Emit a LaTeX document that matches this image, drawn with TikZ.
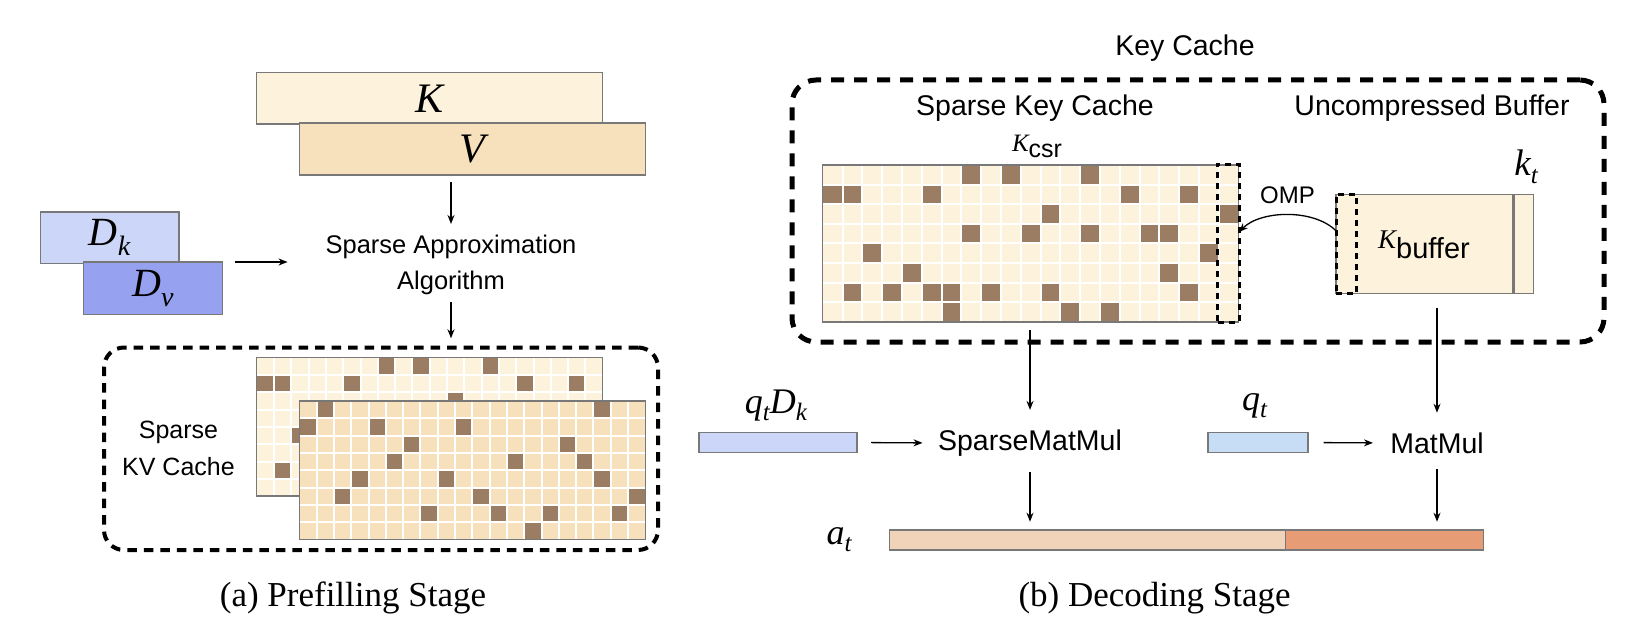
\documentclass[tikz,border=0pt]{standalone}
\usepackage{fontspec}
\setmainfont{Liberation Serif}
\newfontfamily\hsans{Liberation Sans}
\usetikzlibrary{arrows.meta}

\definecolor{creamA}{RGB}{253,242,220}
\definecolor{creamB}{RGB}{246,225,188}
\definecolor{darkcell}{RGB}{154,125,98}
\definecolor{bordergray}{RGB}{120,120,120}
\definecolor{dkblue}{RGB}{204,214,248}
\definecolor{dvblue}{RGB}{150,161,240}
\definecolor{qblue}{RGB}{199,221,246}
\definecolor{atlight}{RGB}{241,211,185}
\definecolor{atdark}{RGB}{230,157,118}

% #1 x0, #2 y0, #3 cell w, #4 cell h, #5 cols, #6 rows, #7 fill, #8 dark cells row/col
\newcommand\drawgrid[8]{%
  \fill[#7] (#1,#2) rectangle ({#1+#5*#3},{#2+#6*#4});
  \foreach \gr/\gc in {#8}{\fill[darkcell] ({#1+\gc*#3},{#2+\gr*#4}) rectangle ++(#3,#4);}
  \pgfmathtruncatemacro\gcm{#5-1}
  \pgfmathtruncatemacro\grm{#6-1}
  \foreach \gi in {1,...,\gcm}{\draw[white,line width=2pt] ({#1+\gi*#3},#2) -- ++(0,{#6*#4});}
  \foreach \gj in {1,...,\grm}{\draw[white,line width=2pt] (#1,{#2+\gj*#4}) -- ++({#5*#3},0);}
  \draw[bordergray,line width=1.5pt] (#1,#2) rectangle ({#1+#5*#3},{#2+#6*#4});
}

\begin{document}
\begin{tikzpicture}[x=1pt,y=-1pt,
  box/.style={draw=bordergray,line width=1.5pt,inner sep=0pt,outer sep=0pt},
  arr/.style={-{Stealth[length=9pt,width=7pt]},line width=1.3pt},
  dashL/.style={draw=black,line width=4pt,dash pattern=on 9.5pt off 7pt,rounded corners=20pt,inner sep=0pt,outer sep=0pt},
  dashR/.style={draw=black,line width=5pt,dash pattern=on 13pt off 10pt,rounded corners=24pt,inner sep=0pt,outer sep=0pt},
  dashS/.style={draw=black,line width=3pt,dash pattern=on 6pt off 5pt,inner sep=0pt,outer sep=0pt},
  lab/.style={inner sep=0pt,outer sep=0pt},
  sfL/.style={lab,font=\hsans\fontsize{25.5}{36.3}\selectfont},
  sfR/.style={lab,font=\hsans\fontsize{28.5}{34}\selectfont},
  mathlab/.style={lab,font=\fontsize{36}{36}\selectfont\itshape},
  captxt/.style={lab,font=\fontsize{35}{40}\selectfont},
]
\useasboundingbox (0,0) rectangle (1642,642);
\fill[white] (0,0) rectangle (1642,642);

% ---------------- (a) Prefilling stage ----------------
\node[box,fill=creamA,minimum width=346pt,minimum height=51.3pt] (K) at (429.7,98.4)
  {\fontsize{42}{42}\selectfont\itshape K};
\node[box,fill=creamB,minimum width=345.6pt,minimum height=52.3pt] (V) at (472.5,148.9)
  {\fontsize{42}{42}\selectfont\itshape V};

\node[box,fill=dkblue,minimum width=138.7pt,minimum height=51.7pt] (Dk) at (109.65,237.85)
  {\fontsize{40}{40}\selectfont\itshape D\raisebox{-10pt}{\fontsize{28}{28}\selectfont k}};
\node[box,fill=dvblue,minimum width=139.2pt,minimum height=52.3pt] (Dv) at (153,288.15)
  {\fontsize{40}{40}\selectfont\itshape D\raisebox{-10pt}{\fontsize{28}{28}\selectfont v}};

\node[sfL,align=center] (sa) at (451,265) {Sparse Approximation\\Algorithm};

\draw[arr,shorten <=6.7pt,shorten >=11pt] (V.south -| sa.north) -- (sa.north);
\draw[arr,shorten <=12pt,shorten >=38pt] (Dv.north east) -- (Dv.north east -| sa.west);

\node[dashL,minimum width=554pt,minimum height=202.5pt] (kvc) at (381,448.75) {};
\draw[arr,shorten <=7.3pt,shorten >=9.2pt] (sa.south) -- (sa.south |- kvc.north);

\drawgrid{256.7}{357.7}{17.3}{17.3}{20}{8}{creamA}{0/7,0/9,0/13,1/0,1/1,1/5,1/15,1/18,2/11,3/7,3/10,3/13,3/16,3/17,4/2,4/19,5/4,5/17,6/1,6/3,6/5,6/6,6/8,6/11,6/18,7/6,7/12,7/14}
\drawgrid{299.3}{401}{17.3}{17.3}{20}{8}{creamB}{0/1,0/17,1/0,1/4,1/9,2/6,2/15,3/5,3/12,3/16,4/3,4/8,4/17,5/2,5/10,5/19,6/7,6/11,6/14,6/18,7/13}

\node[sfL,align=center,font=\hsans\fontsize{25}{37}\selectfont] (kvl) at (178.5,448.5) {Sparse\\KV Cache};

% ---------------- (b) Decoding stage ----------------
\node[sfR] (kc) at (1185,48) {Key Cache};
\node[dashR,minimum width=812pt,minimum height=262pt] (rbox) at (1198,211) {};
\node[sfR] (skc) at (1035,108) {Sparse Key Cache};
\node[sfR] (ucb) at (1432,108) {Uncompressed Buffer};
\node[lab] (kcsrl) at (1037,146.5)
  {\fontsize{25}{25}\selectfont\itshape K\raisebox{-6pt}{\upshape\hsans\fontsize{25}{25}\selectfont csr}};

\drawgrid{822.7}{165}{19.8}{19.6}{21}{8}{creamA}{0/7,0/9,0/13,1/0,1/1,1/5,1/15,1/18,2/11,2/20,3/7,3/10,3/13,3/16,3/17,4/2,4/19,5/4,5/17,6/1,6/3,6/5,6/6,6/8,6/11,6/18,7/6,7/12,7/14}
\node[lab,minimum width=415.8pt,minimum height=156.8pt] (kcsr) at (1030.6,243.4) {};
\node[dashS,minimum width=21.3pt,minimum height=158pt] (colbox) at (1228.35,243) {};

\node[box,fill=creamA,minimum width=197.3pt,minimum height=99pt] (buf) at (1434.65,243.8) {};
\draw[bordergray,line width=2.5pt] ([xshift=-19.6pt]buf.north east) -- ([xshift=-19.6pt]buf.south east);
\node[dashS,minimum width=20.7pt,minimum height=99pt] (bufcol) at (1346.35,243.8) {};
\node[lab] (kbl) at (1424,245.3)
  {\fontsize{27}{27}\selectfont\itshape K\raisebox{-10pt}{\upshape\hsans\fontsize{29}{29}\selectfont buffer}};
\node[lab] (ktl) at (1526,167)
  {\fontsize{37}{37}\selectfont\itshape k\raisebox{-8pt}{\fontsize{25}{25}\selectfont t}};

\node[lab,font=\hsans\fontsize{24}{24}\selectfont] (omp) at (1287.5,195) {OMP};
\draw[arr] ([yshift=13pt]buf.west) .. controls +(-22,-22) and +(22,-22) .. ([yshift=11pt]colbox.east);

\node[box,fill=dkblue,minimum width=158pt,minimum height=20.4pt] (qd) at (778,442.5) {};
\node[mathlab] (qdl) at (776,406)
  {q\raisebox{-7pt}{\fontsize{25}{25}\selectfont t}D\raisebox{-7pt}{\fontsize{25}{25}\selectfont k}};
\node[sfR] (smm) at (1030,443) {SparseMatMul};
\node[box,fill=qblue,minimum width=100pt,minimum height=20.4pt] (q) at (1258,442.5) {};
\node[mathlab] (ql) at (1254.5,406)
  {q\raisebox{-7pt}{\fontsize{25}{25}\selectfont t}};
\node[sfR] (mm) at (1437,443) {MatMul};

\node[box,fill=atlight,minimum width=395.6pt,minimum height=20pt] (atl) at (1087.5,540) {};
\node[box,fill=atdark,minimum width=198.1pt,minimum height=20pt] (atr) at (1384.35,540) {};
\node[mathlab] (atlab) at (839,540)
  {a\raisebox{-7pt}{\fontsize{25}{25}\selectfont t}};

\draw[arr,shorten <=14pt,shorten >=15.6pt] (qd.east) -- (smm.west);
\draw[arr,shorten <=15.5pt,shorten >=17.3pt] (q.east) -- (mm.west);
\draw[arr,shorten <=8pt,shorten >=19.8pt] (kcsr.south -| smm.north) -- (smm.north);
\draw[arr,shorten <=14.4pt,shorten >=19.8pt] (buf.south -| mm.north) -- (mm.north);
\draw[arr,shorten <=15.5pt,shorten >=8.3pt] (smm.south) -- (smm.south |- atl.north);
\draw[arr,shorten <=15.5pt,shorten >=8.3pt] (mm.south) -- (mm.south |- atr.north);

% ---------------- captions ----------------
\node[captxt] (capa) at (353,598) {(a) Prefilling Stage};
\node[captxt] (capb) at (1154.6,598) {(b) Decoding Stage};
\end{tikzpicture}
\end{document}
